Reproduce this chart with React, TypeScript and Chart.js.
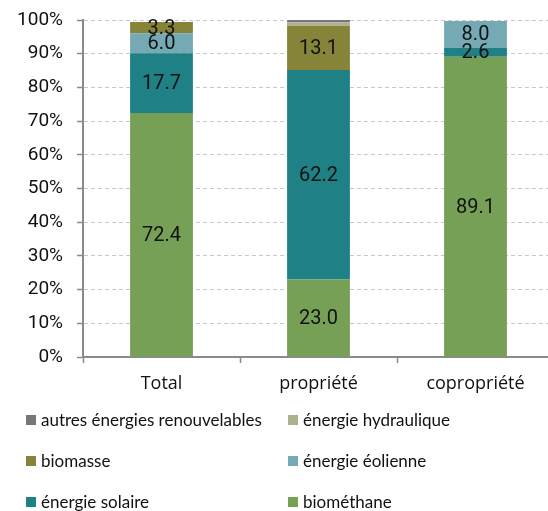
import React, { useEffect, useRef } from "react";
import { Chart, registerables } from "chart.js";

Chart.register(...registerables);

const categories = ["Total", "propriété", "copropriété"];
const seriesNames = [
  "biométhane",
  "énergie solaire",
  "énergie éolienne",
  "biomasse",
  "énergie hydraulique",
  "autres énergies renouvelables",
];
const biomethane = [72.4, 23.0, 89.1];
const solaire = [17.7, 62.2, 2.6];
const eolienne = [6.0, 0, 8.0];
const biomasse = [3.3, 13.1, 0];
const hydraulique = [0, 1.0, 0];
const autres = [0, 0.7, 0];
const seriesColors = ["#76a055", "#1f8085", "#75aab5", "#858438", "#acb290", "#77777a"];
const yTicks = [0, 10, 20, 30, 40, 50, 60, 70, 80, 90, 100];

const legendOrder = [5, 4, 3, 2, 1, 0];

const labelPlugin = {
  id: "segLabels",
  afterDatasetsDraw(chart: any) {
    const ctx = chart.ctx;
    ctx.save();
    ctx.font = "20px Roboto";
    ctx.fillStyle = "#111";
    ctx.textAlign = "center";
    ctx.textBaseline = "middle";
    chart.data.datasets.forEach((ds: any, i: number) => {
      const meta = chart.getDatasetMeta(i);
      meta.data.forEach((el: any, j: number) => {
        const v = ds.data[j];
        if (v >= 2) {
          ctx.fillText(v.toFixed(1), el.x, (el.y + el.base) / 2 + 1);
        }
      });
    });
    ctx.restore();
  },
};

export default function App() {
  const ref = useRef<HTMLCanvasElement>(null);
  useEffect(() => {
    const values = [biomethane, solaire, eolienne, biomasse, hydraulique, autres];
    const chart = new Chart(ref.current!, {
      type: "bar",
      data: {
        labels: categories,
        datasets: values.map((d, i) => ({
          label: seriesNames[i],
          data: d,
          backgroundColor: seriesColors[i],
          borderWidth: 0,
          barPercentage: 0.8,
          categoryPercentage: 0.5,
        })),
      },
      options: {
        responsive: false,
        animation: false,
        layout: { padding: { top: 20, left: 0, right: 0, bottom: 0 } },
        plugins: { legend: { display: false }, tooltip: { enabled: false } },
        scales: {
          x: {
            stacked: true,
            grid: { drawOnChartArea: false, tickLength: 6, tickColor: "#8a8a8a", tickWidth: 1.5 },
            border: { color: "#8a8a8a", width: 2 },
            ticks: { color: "#111", font: { family: "Open Sans", size: 18 }, padding: 10 },
            afterFit: (s: any) => {
              s.height = 44;
            },
          },
          y: {
            stacked: true,
            min: 0,
            max: 100,
            afterBuildTicks: (s: any) => {
              s.ticks = yTicks.map((v) => ({ value: v }));
            },
            grid: {
              color: "#c8c8c8",
              lineWidth: 1,
              tickLength: 6,
              tickColor: "#8a8a8a",
              tickWidth: 1.5,
              tickBorderDash: [],
            },
            border: { color: "#8a8a8a", width: 2, dash: [4, 3] },
            ticks: {
              color: "#111",
              font: { family: "Roboto", size: 19 },
              padding: 14,
              callback: (v: any) => v + "%",
            },
            afterFit: (s: any) => {
              s.width = 83;
              s.paddingTop = 0;
              s.paddingBottom = 0;
            },
          },
        },
      },
      plugins: [labelPlugin],
    });
    return () => chart.destroy();
  }, []);

  return (
    <div style={{ position: "fixed", left: 0, top: 0, width: 548, height: 511, overflow: "hidden", background: "#fff" }}>
      <canvas ref={ref} width={554} height={401} style={{ display: "block" }} />
      <div
        style={{
          position: "absolute",
          left: 26,
          top: 399,
          display: "grid",
          gridTemplateColumns: "262px 240px",
          gridAutoRows: "41px",
          fontFamily: "Lato",
          fontSize: 17,
          color: "#111",
        }}
      >
        {legendOrder.map((i) => (
          <div key={i} style={{ display: "flex", alignItems: "center", whiteSpace: "nowrap" }}>
            <span style={{ display: "inline-block", width: 10, height: 10, background: seriesColors[i], marginRight: 5 }} />
            {seriesNames[i]}
          </div>
        ))}
      </div>
    </div>
  );
}
